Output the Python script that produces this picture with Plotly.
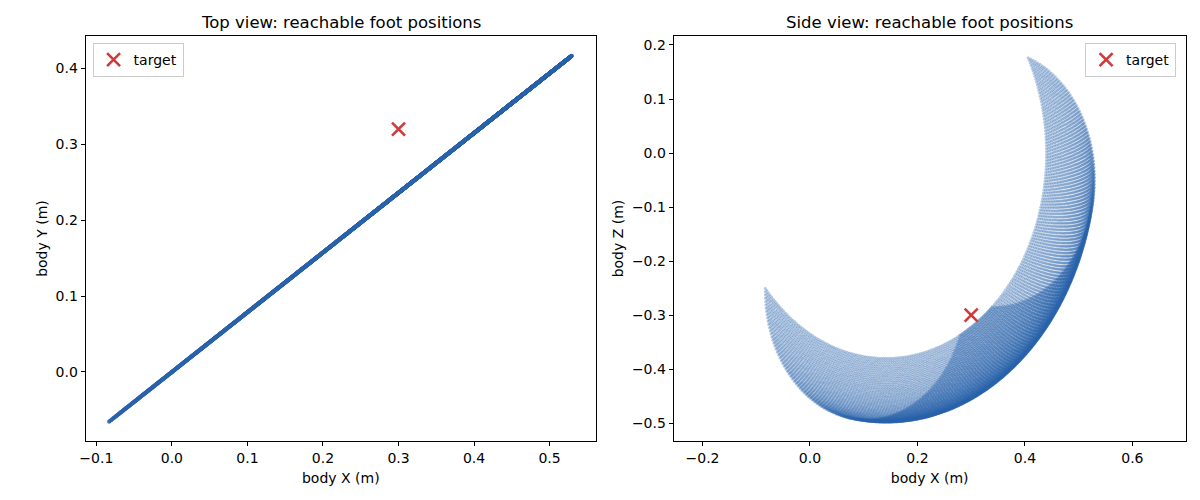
import numpy as np
import plotly.graph_objects as go

# leg geometry (m, deg)
leg_yaw_deg = 38.2          # direction of the leg plane in the top view
hip_offset = 0.18           # hip distance from body origin along the leg plane
hip_height = 0.0
thigh_len = 0.26
shank_len = 0.238
hip_pitch_range = [-100.6, -10.5]
knee_range = [-80.6, 80.6]
n_steps = 110

target_x = [0.30]
target_y = [0.32]
target_z = [-0.30]

# forward kinematics over the joint grid
hip = np.radians(np.linspace(hip_pitch_range[0], hip_pitch_range[1], n_steps))
knee = np.radians(np.linspace(knee_range[0], knee_range[1], n_steps))
H, K = np.meshgrid(hip, knee)
u = hip_offset + thigh_len * np.cos(H) + shank_len * np.cos(H + K)
foot_z = hip_height + thigh_len * np.sin(H) + shank_len * np.sin(H + K)
yaw = np.radians(leg_yaw_deg)
foot_x = (u * np.cos(yaw)).ravel()
foot_y = (u * np.sin(yaw)).ravel()
foot_z = foot_z.ravel()

blue = '#2a64ad'
red = '#d03a3a'
font = dict(family='DejaVu Sans', size=14, color='black')

# page body has an 8px margin, so the figure is drawn 8px in from the corner
W, H_PX = 1184, 484

fig = go.Figure()
fig.add_trace(go.Scatter(x=foot_x, y=foot_y, mode='markers', showlegend=False,
                         marker=dict(color=blue, size=4, opacity=0.35, line=dict(width=0)),
                         xaxis='x', yaxis='y', hoverinfo='skip'))
fig.add_trace(go.Scatter(x=target_x, y=target_y, mode='markers', name='target',
                         marker=dict(symbol='x-thin', size=13, line=dict(width=2.6, color=red)),
                         xaxis='x', yaxis='y', legend='legend'))
fig.add_trace(go.Scatter(x=foot_x, y=foot_z, mode='markers', showlegend=False,
                         marker=dict(color=blue, size=3, opacity=0.35, line=dict(width=0)),
                         xaxis='x2', yaxis='y2', hoverinfo='skip'))
fig.add_trace(go.Scatter(x=target_x, y=target_z, mode='markers', name='target',
                         marker=dict(symbol='x-thin', size=13, line=dict(width=2.6, color=red)),
                         xaxis='x2', yaxis='y2', legend='legend2'))

ax = dict(showline=True, linecolor='black', linewidth=1, mirror=True, ticks='outside',
          ticklen=4, tickcolor='black', showgrid=False, zeroline=False,
          tickfont=font, tickformat='.1f', title_font=font)

fig.update_layout(
    width=W, height=H_PX, margin=dict(l=0, r=0, t=0, b=0),
    paper_bgcolor='white', plot_bgcolor='white', font=font,
    xaxis=dict(ax, domain=[0.0608, 0.4941], range=[-0.1142, 0.5615], dtick=0.1,
               title_text='body X (m)', title_standoff=8, anchor='y'),
    yaxis=dict(ax, domain=[0.1054, 0.9421], range=[-0.0909, 0.4426], dtick=0.1,
               title_text='body Y (m)', title_standoff=4, anchor='x'),
    xaxis2=dict(ax, domain=[0.5600, 0.9947], range=[-0.2537, 0.6994], dtick=0.2,
                title_text='body X (m)', title_standoff=8, anchor='y2'),
    yaxis2=dict(ax, domain=[0.1054, 0.9421], range=[-0.533, 0.2166], dtick=0.1,
                title_text='body Z (m)', title_standoff=4, anchor='x2'),
    legend=dict(x=0.0667, y=0.9277, xanchor='left', yanchor='top', bordercolor='#cccccc',
                borderwidth=1, bgcolor='rgba(255,255,255,0.8)', font=font),
    legend2=dict(x=0.9865, y=0.9277, xanchor='right', yanchor='top', bordercolor='#cccccc',
                 borderwidth=1, bgcolor='rgba(255,255,255,0.8)', font=font),
    annotations=[
        dict(text='Top view: reachable foot positions', x=0.2775, y=0.971, xref='paper',
             yref='paper', xanchor='center', yanchor='middle', showarrow=False,
             font=dict(family='DejaVu Sans', size=16.5, color='black')),
        dict(text='Side view: reachable foot positions', x=0.7773, y=0.971, xref='paper',
             yref='paper', xanchor='center', yanchor='middle', showarrow=False,
             font=dict(family='DejaVu Sans', size=16.5, color='black')),
    ],
)

fig.write_html('out.html')
